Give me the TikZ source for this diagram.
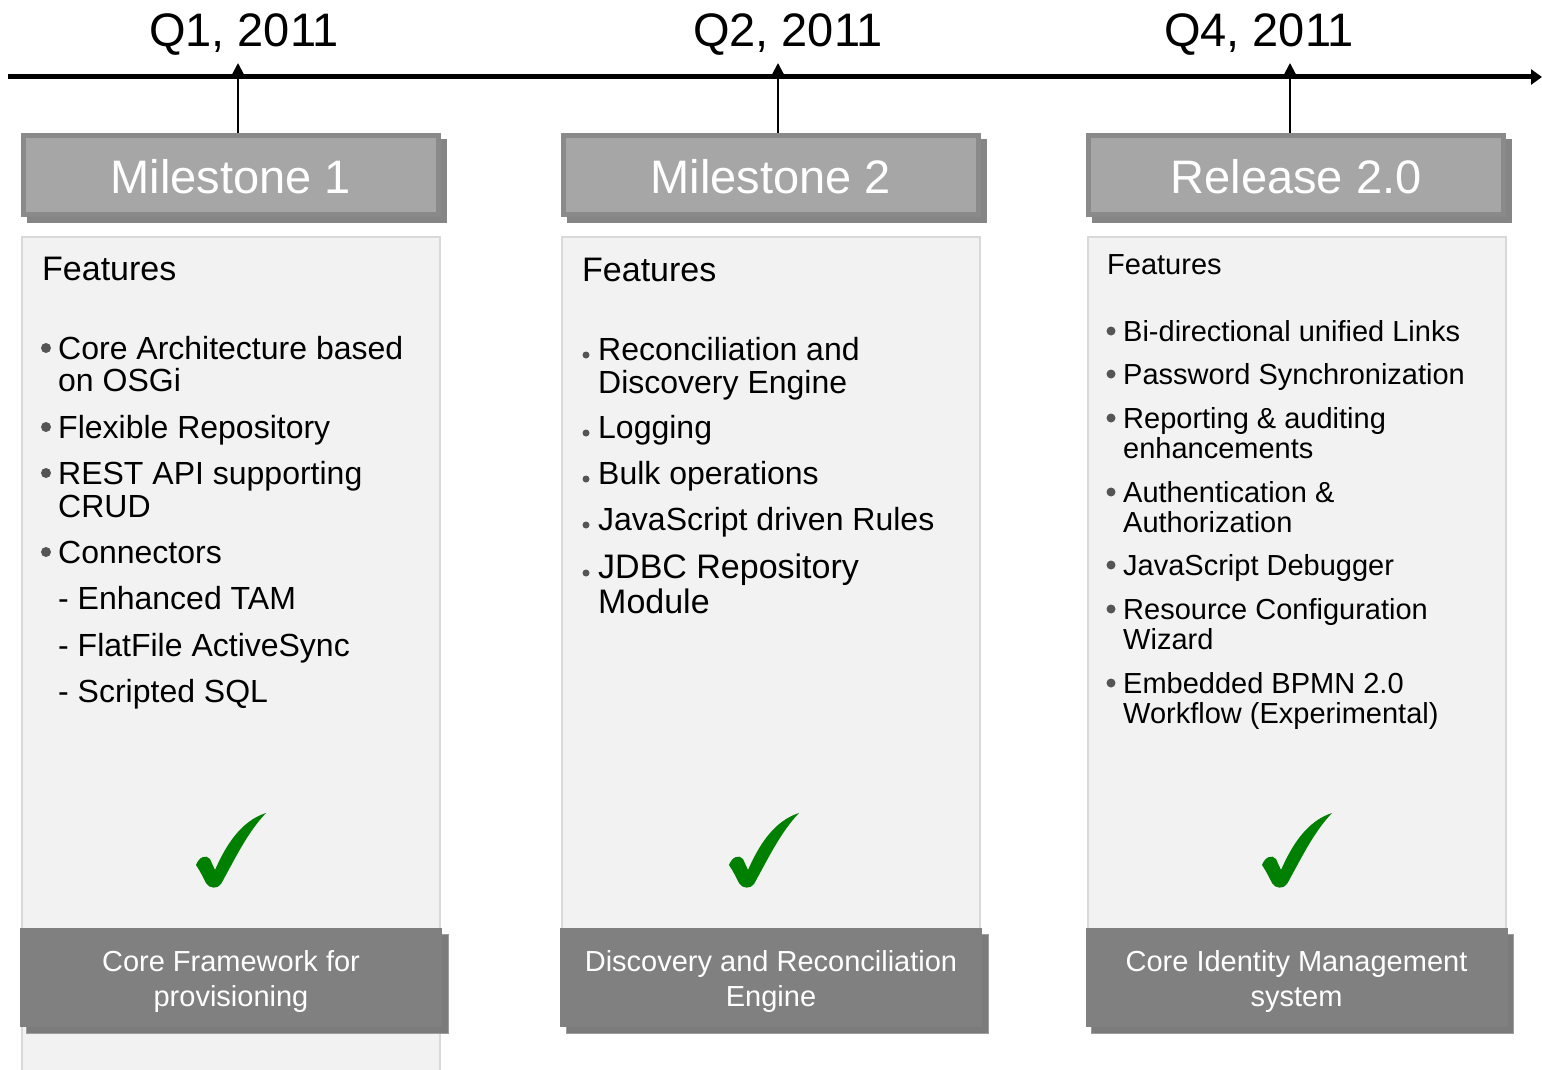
\documentclass[tikz,border=0pt]{standalone}
\usepackage{fontspec}
\setmainfont{Liberation Sans}
\usetikzlibrary{arrows.meta,shadows,calc}
\definecolor{hdrfill}{HTML}{A6A6A6}
\definecolor{hdrline}{HTML}{8A8A8A}
\definecolor{hdrshadow}{HTML}{858585}
\definecolor{botfill}{HTML}{808080}
\definecolor{botshadow}{HTML}{7B7B7B}
\definecolor{botedge}{HTML}{9C9C9C}
\definecolor{panelfill}{HTML}{F2F2F2}
\definecolor{panelline}{HTML}{D9D9D9}
\definecolor{bulletc}{HTML}{555555}
\definecolor{checkgreen}{HTML}{008000}
\newcommand\mycheck[1]{%
  \fill[checkgreen, shift={#1}] (-35,14) .. controls (-32,6) and (-25,3) .. (-21,8)
    -- (-16,19) .. controls (-5,-6) and (10,-30) .. (35,-38)
    .. controls (16,-18) and (4,8) .. (-10,33)
    .. controls (-13,38) and (-22,38) .. (-25,32)
    .. controls (-28,26) and (-31,20) .. (-35,14) -- cycle;}
\begin{document}
\begin{tikzpicture}[x=1pt,y=-1pt,
  hdr/.style={draw=hdrline, line width=5pt, fill=hdrfill, minimum width=415pt,
    minimum height=79pt, inner sep=0pt, text=white, font=\fontsize{47}{56}\selectfont,
    general shadow={shadow xshift=6pt, shadow yshift=-6pt, fill=hdrshadow, draw=hdrshadow, line width=5pt}},
  botbox/.style={fill=botfill, minimum width=422pt, minimum height=99pt, inner sep=0pt,
    text=white, align=center, font=\fontsize{29}{35}\selectfont,
    general shadow={shadow xshift=6pt, shadow yshift=-6pt, fill=botshadow, draw=botedge, line width=1pt}},
  bottext/.style={inner sep=0pt, text=white, align=center, font=\fontsize{29}{35}\selectfont},
  hdrtext/.style={inner sep=0pt, text=white, font=\fontsize{47}{56}\selectfont},
  panel/.style={draw=panelline, line width=2pt, fill=panelfill, minimum width=418pt, inner sep=0pt, anchor=north},
  qlab/.style={anchor=base, inner sep=0pt, font=\fontsize{47}{56}\selectfont},
  feat/.style={anchor=base west, inner sep=0pt, font=\fontsize{34}{40}\selectfont},
  itm/.style={anchor=base west, inner sep=0pt, font=\fontsize{32}{38}\selectfont},
  itmb/.style={anchor=base west, inner sep=0pt, font=\fontsize{34}{40}\selectfont},
  featr/.style={anchor=base west, inner sep=0pt, font=\fontsize{29}{34}\selectfont},
  itmr/.style={anchor=base west, inner sep=0pt, font=\fontsize{29}{34}\selectfont},
  timeline/.style={line width=5pt, -{Triangle[length=11pt,width=15pt]}},
  tick/.style={line width=2pt, -{Triangle[length=12pt,width=12pt]}},
  bul/.style={fill=bulletc}
]
\useasboundingbox (0,0) rectangle (1542,1070);

% timeline
\coordinate (tl0) at (8,77);
\coordinate (tl1) at (1542,77);
\draw[timeline] (tl0) -- (tl1);
\node[qlab] (q1) at (244,47) {Q1, 2011};
\node[qlab] (q2) at (788,47) {Q2, 2011};
\node[qlab] (q4) at (1259,47) {Q4, 2011};

% panels
\node[panel, minimum height=845pt] (p1) at (231,236) {};
\node[panel, minimum height=704pt] (p2) at (771,236) {};
\node[panel, minimum height=704pt] (p3) at (1296.5,236) {};

% headers
\node[hdr] (h1) at (231,175) {};
\node[hdr] (h2) at (771,175) {};
\node[hdr] (h3) at (1296,175) {};
\node[hdrtext] (h1t) at (231,177) {Milestone 1};
\node[hdrtext] (h2t) at (771,177) {Milestone 2};
\node[hdrtext] (h3t) at (1296,177) {Release 2.0};

% ticks
\coordinate (t1) at (238,63);
\coordinate (t2) at (778,63);
\coordinate (t3) at (1290,63);
\draw[tick] (h1.north -| t1) -- (t1);
\draw[tick] (h2.north -| t2) -- (t2);
\draw[tick] (h3.north -| t3) -- (t3);

% left list
\node[feat] (lf) at (42,280) {Features};
\node[itm] (l1) at (58,359) {Core Architecture based};
\node[itm] (l1b) at (58,391) {on OSGi};
\node[itm] (l2) at (58,438) {Flexible Repository};
\node[itm] (l3) at (58,484) {REST API supporting};
\node[itm] (l3b) at (58,517) {CRUD};
\node[itm] (l4) at (58,563) {Connectors};
\node[itm] (l5) at (58,609) {- Enhanced TAM};
\node[itm] (l6) at (58,656) {- FlatFile ActiveSync};
\node[itm] (l7) at (58,702) {- Scripted SQL};
\foreach \y in {348,427,473,552} \fill[bul] (46,\y) circle [radius=5pt];

% middle list
\node[feat] (mf) at (582,281) {Features};
\node[itm] (m1) at (598,360) {Reconciliation and};
\node[itm] (m1b) at (598,393) {Discovery Engine};
\node[itm] (m2) at (598,438) {Logging};
\node[itm] (m3) at (598,484) {Bulk operations};
\node[itm] (m4) at (598,530) {JavaScript driven Rules};
\node[itmb] (m5) at (598,578) {JDBC Repository};
\node[itmb] (m5b) at (598,613) {Module};
\foreach \y in {355,433,479,525,573} \fill[bul] (586,\y) circle [radius=3.5pt];

% right list
\node[featr] (rf) at (1107,274) {Features};
\node[itmr] (r1) at (1123,341) {Bi-directional unified Links};
\node[itmr] (r2) at (1123,384) {Password Synchronization};
\node[itmr] (r3) at (1123,428) {Reporting \& auditing};
\node[itmr] (r3b) at (1123,458) {enhancements};
\node[itmr] (r4) at (1123,502) {Authentication \&};
\node[itmr] (r4b) at (1123,532) {Authorization};
\node[itmr] (r5) at (1123,575) {JavaScript Debugger};
\node[itmr] (r6) at (1123,619) {Resource Configuration};
\node[itmr] (r6b) at (1123,649) {Wizard};
\node[itmr] (r7) at (1123,693) {Embedded BPMN 2.0};
\node[itmr] (r7b) at (1123,723) {Workflow (Experimental)};
\foreach \y in {331,374,418,492,565,609,683} \fill[bul] (1111,\y) circle [radius=4.5pt];

% checkmarks
\mycheck{(231,851)}
\mycheck{(764,851)}
\mycheck{(1297,851)}

% bottom boxes
\node[botbox] (b1) at (231,977.5) {};
\node[botbox] (b2) at (771,977.5) {};
\node[botbox] (b3) at (1296.5,977.5) {};
\node[bottext] (b1t) at (231,981) {Core Framework for\\provisioning};
\node[bottext] (b2t) at (771,981) {Discovery and Reconciliation\\Engine};
\node[bottext] (b3t) at (1296.5,981) {Core Identity Management\\system};
\end{tikzpicture}
\end{document}
